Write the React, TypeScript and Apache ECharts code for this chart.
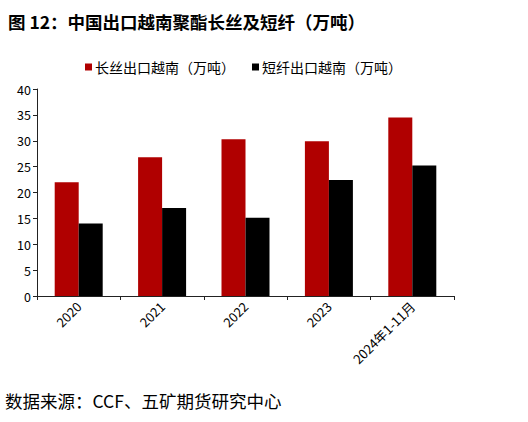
import { useEffect, useRef } from "react";
import * as echarts from "echarts";

const categories = ["2020", "2021", "2022", "2023", "2024年1-11月"];
const filamentValues = [22.0, 26.8, 30.3, 29.9, 34.5];
const staplesValues = [14.0, 17.0, 15.1, 22.4, 25.2];
const seriesNames = ["长丝出口越南（万吨）", "短纤出口越南（万吨）"];

const FONT = "'Noto Sans CJK SC', 'Liberation Sans', sans-serif";

export default function App() {
  const ref = useRef<HTMLDivElement | null>(null);

  useEffect(() => {
    document.body.style.margin = "0";
    if (!ref.current) return;
    const chart = echarts.init(ref.current, undefined, { renderer: "svg" });
    chart.setOption({
      animation: false,
      backgroundColor: "#ffffff",
      textStyle: { fontFamily: FONT },
      title: {
        text: "图 12：中国出口越南聚酯长丝及短纤（万吨）",
        left: 3,
        top: 8,
        textStyle: { fontSize: 17.5, fontWeight: "bold", color: "#000", fontFamily: FONT }
      },
      legend: {
        left: 80,
        top: 55,
        itemWidth: 7,
        itemHeight: 7,
        itemGap: 17,
        icon: "rect",
        textStyle: { fontSize: 14, color: "#000", fontFamily: FONT, padding: [0, 0, 0, -2] },
        data: seriesNames
      },
      grid: { left: 37, right: 74, top: 89, bottom: 126, containLabel: false },
      xAxis: {
        type: "category",
        data: categories,
        axisLine: { lineStyle: { color: "#222", width: 1 } },
        axisTick: { show: true, length: 4, lineStyle: { color: "#222" } },
        axisLabel: { rotate: 45, fontSize: 13, color: "#000", margin: 8, fontFamily: FONT }
      },
      yAxis: {
        type: "value",
        min: 0,
        max: 40,
        interval: 5,
        splitLine: { show: false },
        axisLine: { show: true, lineStyle: { color: "#222", width: 1 } },
        axisTick: { show: true, length: 4, lineStyle: { color: "#222" } },
        axisLabel: { fontSize: 12.5, color: "#000", margin: 6, fontFamily: FONT }
      },
      series: [
        {
          name: seriesNames[0],
          type: "bar",
          data: filamentValues,
          barWidth: 24,
          barGap: "0%",
          itemStyle: { color: "#b00000" }
        },
        {
          name: seriesNames[1],
          type: "bar",
          data: staplesValues,
          barWidth: 24,
          barGap: "0%",
          itemStyle: { color: "#000000" }
        }
      ],
      graphic: [
        {
          type: "text",
          left: 5,
          top: 392,
          style: {
            text: "数据来源：CCF、五矿期货研究中心",
            fontSize: 17.5,
            fill: "#000",
            fontFamily: FONT
          }
        }
      ]
    });
    return () => {
      chart.dispose();
    };
  }, []);

  return <div ref={ref} style={{ width: 528, height: 422 }} />;
}
